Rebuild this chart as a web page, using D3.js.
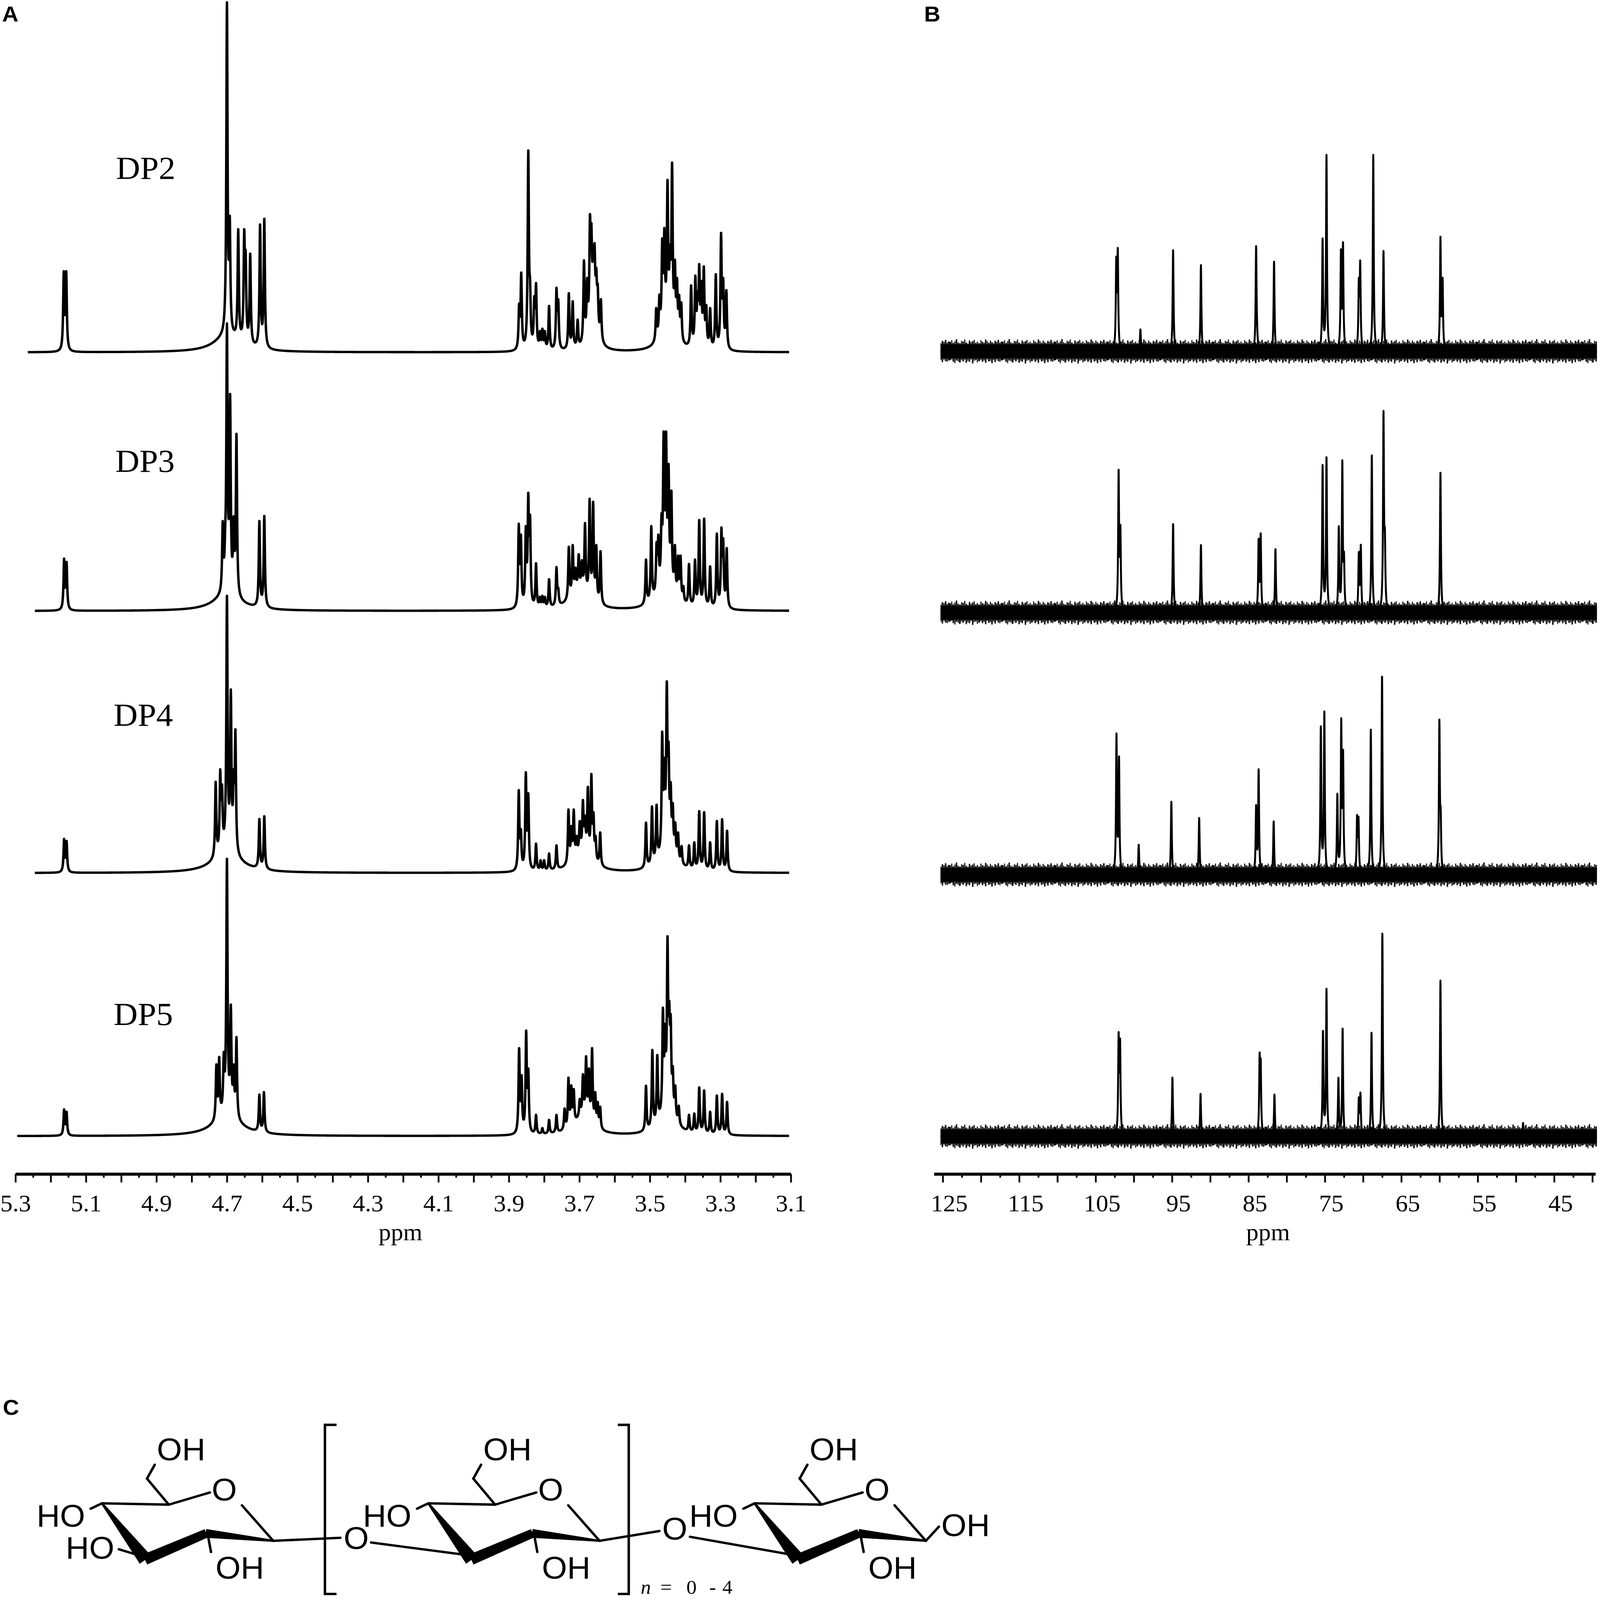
<!DOCTYPE html>
<html><head><meta charset="utf-8">
<script src="https://cdn.jsdelivr.net/npm/d3@7"></script>
<style>html,body{margin:0;padding:0;width:100%;height:100%;overflow:hidden;background:#fff}svg{display:block;width:100vw;height:100vh}</style>
</head><body>
<svg id="fig" viewBox="0 0 4550 4732" preserveAspectRatio="none"></svg>
<script>
// ---------------- DATA ----------------
const seriesNames = ["DP2", "DP3", "DP4", "DP5"];
// 1H spectra: [ppm, observed peak height] ; entries with a 3rd value are broad humps [ppm, amplitude, half-width]
const hDP2 = [
  [5.163,240],[5.156,240],
  [4.700,1035],[4.692,404],[4.700,45,0.045],
  [4.668,364],[4.651,364],[4.647,303],[4.634,292],[4.606,378],[4.594,395],
  [3.871,144],[3.865,236],[3.845,597],[3.840,220],[3.828,166],[3.823,205],[3.812,63],[3.805,70],[3.798,63],
  [3.786,137],[3.765,191],[3.760,157],[3.730,175],[3.719,151],[3.705,97],[3.687,272],[3.678,220],
  [3.670,409],[3.666,382],[3.661,300],[3.657,323],[3.652,250],[3.648,202],[3.639,157],[3.660,110,0.012],
  [3.482,131],[3.473,171],[3.465,337],[3.459,368],[3.450,510],[3.443,319],[3.437,561],[3.429,274],[3.423,220],
  [3.417,170],[3.411,148],[3.383,198],[3.371,227],[3.365,180],[3.360,261],[3.354,211],[3.347,254],[3.340,140],
  [3.329,131],[3.313,231],[3.298,353],[3.292,220],[3.283,184],[3.450,90,0.02]
];
const hDP3 = [
  [5.162,155],[5.155,145],
  [4.712,266],[4.705,250],[4.700,850],[4.691,642],[4.681,280],[4.673,524],[4.700,45,0.045],
  [4.608,266],[4.594,281],
  [3.872,258],[3.866,226],[3.852,251],[3.845,350],[3.840,285],[3.823,141],[3.812,42],[3.805,45],[3.798,42],
  [3.786,94],[3.765,130],[3.760,69],[3.730,190],[3.719,195],[3.711,128],[3.702,168],[3.693,150],[3.684,260],
  [3.671,332],[3.661,323],[3.652,195],[3.640,177],[3.700,60,0.03],
  [3.511,152],[3.496,251],[3.481,204],[3.476,226],[3.467,289],[3.461,531],[3.454,531],[3.447,435],[3.439,356],
  [3.429,195],[3.420,164],[3.413,164],[3.405,74],[3.389,139],[3.372,152],[3.360,269],[3.346,273],[3.329,132],
  [3.310,229],[3.297,247],[3.292,215],[3.282,186],[3.455,80,0.025]
];
const hDP4 = [
  [5.162,101],[5.155,95],
  [4.732,270],[4.719,307],[4.714,262],[4.700,820],[4.689,543],[4.681,307],[4.676,425],[4.700,60,0.045],
  [4.608,160],[4.594,168],
  [3.872,245],[3.866,130],[3.852,298],[3.845,236],[3.823,87],[3.810,38],[3.800,38],[3.786,58],[3.765,82],
  [3.731,188],[3.723,139],[3.716,188],[3.708,110],[3.699,154],[3.690,216],[3.684,170],[3.676,255],[3.666,293],
  [3.660,180],[3.654,110],[3.641,120],[3.690,60,0.03],
  [3.511,149],[3.494,197],[3.481,202],[3.465,418],[3.459,341],[3.452,567],[3.447,389],[3.441,269],[3.435,207],
  [3.428,150],[3.420,120],[3.410,80],[3.389,82],[3.374,91],[3.360,183],[3.346,180],[3.329,91],[3.310,154],
  [3.295,159],[3.281,125],[3.450,70,0.025]
];
const hDP5 = [
  [5.162,79],[5.155,72],
  [4.730,212],[4.722,234],[4.709,249],[4.703,234],[4.700,820],[4.689,389],[4.681,212],[4.673,293],[4.700,60,0.045],
  [4.608,123],[4.595,130],
  [3.871,260],[3.864,180],[3.851,312],[3.845,200],[3.823,63],[3.805,24],[3.786,48],[3.765,63],[3.742,82],
  [3.731,173],[3.723,150],[3.716,139],[3.699,110],[3.690,183],[3.681,236],[3.673,200],[3.664,260],[3.655,130],
  [3.648,101],[3.641,87],[3.690,55,0.03],
  [3.511,149],[3.493,255],[3.479,240],[3.463,380],[3.457,332],[3.450,591],[3.445,400],[3.441,361],[3.435,207],
  [3.428,150],[3.418,90],[3.389,63],[3.374,67],[3.360,144],[3.346,135],[3.329,72],[3.310,120],[3.295,125],
  [3.281,101],[3.450,70,0.025]
];
// 13C spectra: [ppm, observed peak height]
const cDP2 = [[102.3,280],[102.1,306],[99.14,65],[94.86,299],[91.22,255],[84.0,311],[83.86,80],[81.65,265],
  [75.30,334],[74.79,581],[72.9,302],[72.63,323],[70.56,218],[70.38,269],[68.67,581],[67.33,297],[59.88,339],[59.6,218]];
const cDP3 = [[101.99,423],[101.76,260],[94.86,262],[91.22,200],[83.67,219],[83.4,235],[81.47,188],
  [75.30,437],[74.79,460],[73.18,256],[72.72,451],[72.5,180],[70.56,180],[70.3,201],[68.86,465],[67.33,597],[67.15,250],[59.88,414]];
const cDP4 = [[102.27,418],[101.94,350],[99.36,89],[95.09,216],[91.45,168],[84.0,206],[83.67,312],[81.70,158],
  [75.53,439],[75.07,483],[73.37,240],[72.86,463],[72.62,370],[70.79,177],[70.6,172],[68.99,429],[67.52,586],[60.02,459],[59.85,200]];
const cDP5 = [[101.99,309],[101.8,290],[94.95,174],[91.27,126],[83.54,248],[83.4,230],[81.6,124],
  [75.25,312],[74.79,437],[73.23,174],[72.68,319],[70.56,116],[70.35,130],[68.9,307],[67.48,600],[59.88,461],[49.07,40]];
const hSeries = [hDP2, hDP3, hDP4, hDP5];
const cSeries = [cDP2, cDP3, cDP4, cDP5];
const ticksA = ["5.3","5.1","4.9","4.7","4.5","4.3","4.1","3.9","3.7","3.5","3.3","3.1"];
const ticksB = ["125","115","105","95","85","75","65","55","45"];
const axisTitle = "ppm";
const panelLabels = ["A", "B", "C"];

// ---------------- LAYOUT / STYLE ----------------
const L = {
  hBase: [1042, 1807, 2582, 3360],
  hStart: [5.265, 5.245, 5.245, 5.295],
  hEnd: 3.105,
  cBase: [1039, 1812, 2587, 3361],
  cStart: 125.3, cEnd: 39.4,
  axisY: 3472,
  labelPos: [[330,529],[328,1395],[323,2147],[323,3032]]
};
// texture for the noisy 13C baseline band: [x, extent above, extent below, bar width]
const noiseTexture = [[0,28,26,4],[5,33,24,3],[9,25,31,4],[14,30,35,3],[18,36,27,4],[23,27,29,3],[27,24,33,5],
  [33,31,26,3],[37,29,30,4],[42,35,25,3],[46,26,34,4],[51,23,28,3],[55,32,31,4],[60,27,24,3],[64,30,36,4],
  [69,34,28,3],[73,25,26,4],[78,29,33,3],[82,24,29,5],[88,33,25,3],[92,28,31,4],[97,26,27,3],[101,35,34,4],
  [106,30,24,3],[110,25,30,4],[115,32,28,3],[119,27,35,4],[124,24,26,3],[128,31,32,4],[133,28,24,3],
  [137,34,29,4],[142,26,31,3],[146,29,27,4]];

const svg = d3.select("#fig");
svg.append("rect").attr("width",4550).attr("height",4732).attr("fill","#fff");
const defs = svg.append("defs");

const xA = d3.scaleLinear().domain([5.3, 3.1]).range([44, 2249]);
const xB = d3.scaleLinear().domain([126.15, 39.6]).range([2656, 4537]);

const lor = (d, w) => w * w / (d * d + w * w);
// turn observed heights into line amplitudes (accounts for overlap of neighbouring lines)
function solveAmps(peaks, defW) {
  const broad = peaks.filter(p => p[2]);
  const narrow = peaks.filter(p => !p[2]);
  const target = narrow.map(p => Math.max(0, p[1] - d3.sum(broad, b => b[1] * lor(p[0] - b[0], b[2]))));
  const a = target.slice();
  for (let it = 0; it < 300; it++) {
    for (let i = 0; i < narrow.length; i++) {
      let s = 0;
      for (let j = 0; j < narrow.length; j++) s += a[j] * lor(narrow[i][0] - narrow[j][0], defW);
      a[i] = Math.max(0.08 * target[i], a[i] + 0.5 * (target[i] - s));
    }
  }
  return broad.concat(narrow.map((p, i) => [p[0], a[i], defW]));
}
function spectrum(peaks, start, end, step, defW) {
  const pk = solveAmps(peaks, defW);
  return d3.range(start, end - step/2, -step).map(x => [x, d3.sum(pk, p => p[1] * lor(x - p[0], p[2]))]);
}

// Panel A traces
hSeries.forEach((pk, i) => {
  const y = d3.scaleLinear().domain([0, 1000]).range([L.hBase[i], L.hBase[i] - 1000]);
  const pts = spectrum(pk, L.hStart[i], L.hEnd, 0.0005, 0.002);
  svg.append("path").attr("d", d3.line().x(d => xA(d[0])).y(d => y(d[1]))(pts))
    .attr("fill","none").attr("stroke","#000").attr("stroke-width",7).attr("stroke-linejoin","round");
  svg.append("text").attr("x", L.labelPos[i][0]).attr("y", L.labelPos[i][1]).text(seriesNames[i])
    .attr("font-family","Liberation Serif, Times New Roman, serif").attr("font-size",95).attr("fill","#000");
});

// Panel B traces
cSeries.forEach((pk, i) => {
  const base = L.cBase[i];
  const pat = defs.append("pattern").attr("id", "noise" + i).attr("patternUnits","userSpaceOnUse")
    .attr("x", 0).attr("y", base - 37).attr("width", 150).attr("height", 74);
  pat.append("rect").attr("x",0).attr("y",16).attr("width",150).attr("height",42).attr("fill","#000");
  noiseTexture.forEach(n => pat.append("rect").attr("x", n[0]).attr("y", 37 - n[1]).attr("width", n[3])
    .attr("height", n[1] + n[2]).attr("fill","#000"));
  const y = d3.scaleLinear().domain([0, 1000]).range([base, base - 1000]);
  const pts = spectrum(pk, L.cStart, L.cEnd, 0.01, 0.07);
  svg.append("rect").attr("x", xB(L.cStart)).attr("y", base - 37).attr("width", xB(L.cEnd) - xB(L.cStart))
    .attr("height", 74).attr("fill", `url(#noise${i})`);
  svg.append("path").attr("d", d3.line().x(d => xB(d[0])).y(d => y(d[1]))(pts))
    .attr("fill","none").attr("stroke","#000").attr("stroke-width",5.5).attr("stroke-linejoin","round");
});

// Axes
function drawAxis(scale, majors, minors, labels, dx) {
  const g = svg.append("g").attr("transform", `translate(0,${L.axisY})`);
  g.call(d3.axisBottom(scale).tickValues(majors).tickSize(25).tickSizeOuter(0).tickPadding(36)
    .tickFormat(d => { const s = labels.find(l => Math.abs(+l - d) < 1e-6); return s || ""; }));
  const g2 = svg.append("g").attr("transform", `translate(0,${L.axisY})`);
  g2.call(d3.axisBottom(scale).tickValues(minors).tickSize(11).tickFormat(""));
  g2.select(".domain").remove();
  [g, g2].forEach(gg => gg.selectAll(".tick line").attr("stroke","#000").attr("stroke-width",5));
  g.select(".domain").attr("stroke","#000").attr("stroke-width",9);
  g.selectAll(".tick text").attr("font-family","Liberation Serif, Times New Roman, serif")
    .attr("font-size",70).attr("fill","#000").attr("dx", dx);
}
drawAxis(xA, d3.range(0, 23).map(i => +(5.3 - i * 0.1).toFixed(2)),
  d3.range(0, 22).map(i => +(5.25 - i * 0.1).toFixed(3)), ticksA, 0);
drawAxis(xB, d3.range(125, 39, -5), d3.range(122.5, 39, -5), ticksB, 18);
svg.append("text").attr("x", 1139).attr("y", 3668).attr("text-anchor","middle").text(axisTitle)
  .attr("font-family","Liberation Serif, Times New Roman, serif").attr("font-size",70);
svg.append("text").attr("x", 3606).attr("y", 3668).attr("text-anchor","middle").text(axisTitle)
  .attr("font-family","Liberation Serif, Times New Roman, serif").attr("font-size",70);

// Panel labels
[[6,63],[2628,63],[8,4184]].forEach((p, i) => {
  svg.append("text").attr("x", p[0]).attr("y", p[1]).text(panelLabels[i])
    .attr("font-family","Liberation Sans, Arial, sans-serif").attr("font-weight","bold").attr("font-size",64);
});

// ---------------- Panel C: structure ----------------
const S = svg.append("g").attr("fill","none").attr("stroke","#000").attr("stroke-width",7).attr("stroke-linecap","round");
const T = svg.append("g").attr("font-family","Liberation Sans, Arial, sans-serif").attr("font-size",92).attr("fill","#000");
function seg(pts) { S.append("path").attr("d", d3.line()(pts)); }
function wedge(p1, p2, w1, w2) {
  const dx = p2[0]-p1[0], dy = p2[1]-p1[1], l = Math.hypot(dx,dy), nx = -dy/l, ny = dx/l;
  const poly = [[p1[0]+nx*w1/2, p1[1]+ny*w1/2],[p2[0]+nx*w2/2, p2[1]+ny*w2/2],[p2[0]-nx*w2/2, p2[1]-ny*w2/2],[p1[0]-nx*w1/2, p1[1]-ny*w1/2]];
  svg.append("path").attr("d", d3.line()(poly) + "Z").attr("fill","#000").attr("stroke","#000").attr("stroke-width",2);
}
function txt(x, y, s, anchor) { T.append("text").attr("x",x).attr("y",y).attr("text-anchor",anchor||"start").text(s); }
const ringOffsets = [0, 928, 1856];
ringOffsets.forEach((d, k) => {
  const C1=[777+d,4557], C2=[586+d,4535], C3=[413+d,4612], C4=[290+d,4446], C5=[480+d,4450];
  seg([C5,[418+d,4373],[440+d,4332]]);
  txt(446+d, 4319, "OH");
  seg([C4, C5]);
  seg([C5,[597+d,4414]]);
  txt(638+d, 4437, "O", "middle");
  seg([[688+d,4452], C1]);
  wedge(C4, C3, 4, 38);
  wedge(C3, C2, 30, 24);
  wedge(C2, C1, 24, 4);
  seg([C4,[258+d,4462]]);
  txt(242+d, 4515, "HO", "end");
  seg([[592+d,4545],[600+d,4590]]);
  txt(613+d, 4668, "OH");
  if (k === 0) { seg([[405+d,4603],[338+d,4582]]); txt(325, 4609, "HO", "end"); }
});
// glycosidic links
seg([[777,4557],[968,4548]]);
txt(1013, 4581, "O", "middle");
seg([[1055,4562],[1335,4600]]);
seg([[1705,4557],[1875,4528]]);
txt(1919, 4553, "O", "middle");
seg([[1962,4545],[2262,4600]]);
seg([[2633,4557],[2670,4515]]);
txt(2677, 4542, "OH");
// brackets
S.append("path").attr("d","M957,4214H924V4714H957").attr("stroke-linecap","butt");
S.append("path").attr("d","M1757,4214H1788V4714H1757").attr("stroke-linecap","butt");
const nt = svg.append("text").attr("y",4714).attr("font-family","Liberation Serif, Times New Roman, serif").attr("font-size",58);
[["n",1822,true],["=",1878],["0",1952],["-",2017],["4",2054]].forEach(p => {
  const t = nt.append("tspan").attr("x", p[1]).text(p[0]);
  if (p[2]) t.attr("font-style","italic");
});
</script>
</body></html>
